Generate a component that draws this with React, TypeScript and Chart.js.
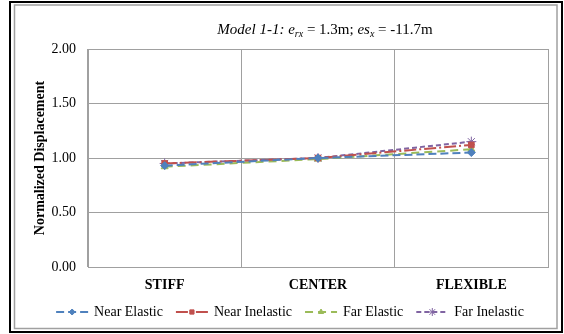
import React, { useEffect, useRef } from 'react';
import { Chart, registerables } from 'chart.js';
import { drawPoint } from 'chart.js/helpers';
Chart.register(...registerables);

const categories = ['STIFF', 'CENTER', 'FLEXIBLE'];
const nearElastic = [0.93, 1.0, 1.05];
const nearInelastic = [0.95, 1.0, 1.12];
const farElastic = [0.92, 0.99, 1.08];
const farInelastic = [0.95, 1.0, 1.15];
const yMin = 0;
const yMax = 2;
const yStep = 0.5;

const SERIF = '"Liberation Serif", "Times New Roman", serif';

const seriesDefs = [
  { label: 'Near Elastic', data: nearElastic, color: '#4F81BD', dash: [8, 4], point: 'rectRot', radius: 4 },
  { label: 'Near Inelastic', data: nearInelastic, color: '#C0504D', dash: [12, 3, 2, 3], point: 'rect', radius: 4 },
  { label: 'Far Elastic', data: farElastic, color: '#9BBB59', dash: [8, 5], point: 'triangle', radius: 4 },
  { label: 'Far Inelastic', data: farInelastic, color: '#8064A2', dash: [5, 3], point: 'star', radius: 5 },
];

const framePlugin = {
  id: 'frame',
  beforeDraw(chart: any) {
    const ctx = chart.ctx;
    ctx.save();
    ctx.fillStyle = '#ffffff';
    ctx.fillRect(0, 0, chart.width, chart.height);
    ctx.strokeStyle = '#000000';
    ctx.lineWidth = 2;
    ctx.strokeRect(10, 2, 552, 330);
    ctx.strokeStyle = '#A0A0A0';
    ctx.lineWidth = 1.5;
    ctx.strokeRect(14.5, 5, 542.5, 323.5);
    ctx.restore();
  },
};

const titlePlugin = {
  id: 'richTitle',
  afterDraw(chart: any) {
    const ctx = chart.ctx;
    const parts = [
      { t: 'Model 1-1:', i: true, sub: false },
      { t: ' e', i: true, sub: false },
      { t: 'rx', i: true, sub: true },
      { t: ' = 1.3m; ', i: false, sub: false },
      { t: 'es', i: true, sub: false },
      { t: 'x', i: true, sub: true },
      { t: ' = -11.7m', i: false, sub: false },
    ];
    const fontFor = (p: any) => `${p.i ? 'italic ' : ''}${p.sub ? 10 : 15}px ${SERIF}`;
    ctx.save();
    let total = 0;
    for (const p of parts) {
      ctx.font = fontFor(p);
      total += ctx.measureText(p.t).width;
    }
    let x = 325 - total / 2;
    const baseY = 34;
    ctx.fillStyle = '#000000';
    ctx.textBaseline = 'alphabetic';
    ctx.textAlign = 'left';
    for (const p of parts) {
      ctx.font = fontFor(p);
      ctx.fillText(p.t, x, p.sub ? baseY + 3 : baseY);
      x += ctx.measureText(p.t).width;
    }
    ctx.restore();
  },
};

const legendPlugin = {
  id: 'customLegend',
  afterDraw(chart: any) {
    const ctx = chart.ctx;
    const lineLen = 32;
    const textGap = 6;
    const itemGap = 13;
    const cy = 312;
    ctx.save();
    ctx.font = `14px ${SERIF}`;
    const widths = seriesDefs.map((s) => lineLen + textGap + ctx.measureText(s.label).width);
    const total = widths.reduce((a, b) => a + b, 0) + itemGap * (seriesDefs.length - 1);
    let x = 290 - total / 2;
    seriesDefs.forEach((s, idx) => {
      ctx.strokeStyle = s.color;
      ctx.lineWidth = 2;
      ctx.setLineDash(s.dash);
      ctx.beginPath();
      ctx.moveTo(x, cy);
      ctx.lineTo(x + lineLen, cy);
      ctx.stroke();
      ctx.setLineDash([]);
      ctx.fillStyle = s.color;
      ctx.strokeStyle = s.color;
      ctx.lineWidth = 1;
      drawPoint(ctx, { pointStyle: s.point, radius: s.radius - 1, rotation: 0, borderWidth: 1 }, x + lineLen / 2, cy);
      ctx.fillStyle = '#000000';
      ctx.font = `14px ${SERIF}`;
      ctx.textAlign = 'left';
      ctx.textBaseline = 'middle';
      ctx.fillText(s.label, x + lineLen + textGap, cy);
      x += widths[idx] + itemGap;
    });
    ctx.restore();
  },
};

export default function App() {
  const ref = useRef<HTMLCanvasElement>(null);
  useEffect(() => {
    if (!ref.current) return;
    const chart = new Chart(ref.current, {
      type: 'line',
      data: {
        labels: categories,
        datasets: seriesDefs.map((s) => ({
          label: s.label,
          data: s.data,
          borderColor: s.color,
          backgroundColor: s.color,
          borderWidth: 2,
          borderDash: s.dash,
          pointStyle: s.point as any,
          pointRadius: s.radius,
          pointBorderColor: s.color,
          pointBackgroundColor: s.color,
          pointBorderWidth: 1,
          tension: 0,
          fill: false,
        })),
      },
      options: {
        responsive: false,
        animation: false,
        events: [],
        layout: { padding: { left: 28, right: 16, top: 49, bottom: 37 } },
        plugins: {
          legend: { display: false },
          title: { display: false },
          tooltip: { enabled: false },
        },
        scales: {
          x: {
            type: 'category',
            offset: true,
            grid: { offset: true, color: '#A0A0A0', lineWidth: 1, drawTicks: false },
            border: { color: '#A0A0A0', width: 1 },
            ticks: {
              padding: 10,
              color: '#000000',
              font: { family: SERIF, size: 14, weight: 'bold' },
            },
            afterFit: (s: any) => {
              s.height = 30;
            },
          },
          y: {
            min: yMin,
            max: yMax,
            grid: { color: '#A0A0A0', lineWidth: 1, drawTicks: false },
            border: { color: '#A0A0A0', width: 1 },
            ticks: {
              stepSize: yStep,
              padding: 12,
              color: '#000000',
              font: { family: SERIF, size: 14 },
              callback: (v: any) => Number(v).toFixed(2),
            },
            title: {
              display: true,
              text: 'Normalized Displacement',
              color: '#000000',
              font: { family: SERIF, size: 14, weight: 'bold' },
              padding: { top: 4, bottom: 0 },
            },
            afterFit: (s: any) => {
              s.width = 60;
            },
          },
        },
      },
      plugins: [framePlugin, titlePlugin, legendPlugin, {
        id: 'rightTopBorder',
        afterDatasetsDraw() {},
        beforeDatasetsDraw(c: any) {
          const a = c.chartArea;
          const ctx = c.ctx;
          ctx.save();
          ctx.strokeStyle = '#A0A0A0';
          ctx.lineWidth = 1;
          ctx.strokeRect(Math.round(a.left) + 0.5, Math.round(a.top) + 0.5, Math.round(a.right - a.left), Math.round(a.bottom - a.top));
          ctx.restore();
        },
      }],
    });
    return () => chart.destroy();
  }, []);
  return (
    <div style={{ position: 'absolute', left: 0, top: 0, width: 564, height: 334 }}>
      <canvas ref={ref} width={564} height={334} style={{ display: 'block' }} />
    </div>
  );
}
